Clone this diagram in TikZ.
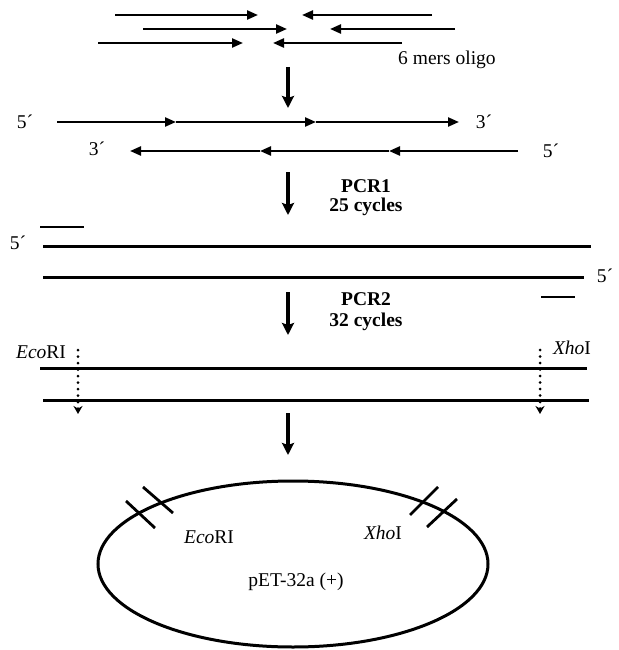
\documentclass[tikz,border=0pt]{standalone}
\usepackage{fontspec}
\setmainfont{Liberation Serif}
\usetikzlibrary{arrows.meta}
\begin{document}
\begin{tikzpicture}[x=1pt,y=-1pt,
  every node/.style={inner sep=0pt,font=\fontsize{19.5}{21}\selectfont},
  oligo/.style={line width=2.3pt,-{Triangle[length=11pt,width=9pt]}},
  strand/.style={line width=2.3pt,-{Triangle[length=11pt,width=9pt]}},
  dsline/.style={line width=3pt},
  primer/.style={line width=2.3pt},
  stepdown/.style={line width=3.5pt,-{Stealth[length=12pt,width=12pt,inset=2pt]}},
  cutsite/.style={line width=3pt,dash pattern=on 0pt off 6.5pt,line cap=round,-{Stealth[length=8pt,width=9pt,inset=2.5pt,line cap=butt]}},
  hash/.style={line width=2.8pt},
  lbl/.style={anchor=center},
  pcr/.style={anchor=base,font=\fontsize{19.5}{21}\selectfont\bfseries}
]
\useasboundingbox (0,0) rectangle (618,650);

% ---- top oligos
\coordinate (o1a) at (115,15); \coordinate (o1b) at (258,15);
\coordinate (o1c) at (432,15); \coordinate (o1d) at (302,15);
\coordinate (o2a) at (143,29); \coordinate (o2b) at (287,29);
\coordinate (o2c) at (455,29); \coordinate (o2d) at (330,29);
\coordinate (o3a) at (98,43);  \coordinate (o3b) at (243,43);
\coordinate (o3c) at (402,43); \coordinate (o3d) at (273,43);
\draw[oligo] (o1a) -- (o1b);
\draw[oligo] (o1c) -- (o1d);
\draw[oligo] (o2a) -- (o2b);
\draw[oligo] (o2c) -- (o2d);
\draw[oligo] (o3a) -- (o3b);
\draw[oligo] (o3c) -- (o3d);
\node[anchor=base west] (oligo) at (398,65) {6 mers oligo};

% ---- step arrows
\coordinate (s1a) at (288,67);  \coordinate (s1b) at (288,108);
\coordinate (s2a) at (288,172); \coordinate (s2b) at (288,215);
\coordinate (s3a) at (288,292); \coordinate (s3b) at (288,335);
\coordinate (s4a) at (288,413); \coordinate (s4b) at (288,455);
\draw[stepdown] (s1a) -- (s1b);
\draw[stepdown] (s2a) -- (s2b);
\draw[stepdown] (s3a) -- (s3b);
\draw[stepdown] (s4a) -- (s4b);

% ---- assembled strands
\coordinate (r1a) at (57,122);  \coordinate (r1b) at (176,122);
\coordinate (r1c) at (316,122); \coordinate (r1d) at (459,122);
\coordinate (r2a) at (518,151); \coordinate (r2b) at (389,151);
\coordinate (r2c) at (260,151); \coordinate (r2d) at (130,151);
\draw[strand] (r1a) -- (r1b);
\draw[strand] (r1b) -- (r1c);
\draw[strand] (r1c) -- (r1d);
\draw[strand] (r2a) -- (r2b);
\draw[strand] (r2b) -- (r2c);
\draw[strand] (r2c) -- (r2d);
\node[lbl] (p51) at (25,122) {5´};
\node[lbl] (p31) at (484,122) {3´};
\node[lbl] (p32) at (97,149) {3´};
\node[lbl] (p52) at (551,151) {5´};

\node[pcr] (pcr1) at (366,192) {PCR1};
\node[pcr] (cyc1) at (366,211) {25 cycles};

% ---- PCR1 product
\coordinate (pa1) at (40,227);  \coordinate (pa2) at (84,227);
\coordinate (la1) at (43,246);  \coordinate (la2) at (591,246);
\coordinate (lb1) at (43,277);  \coordinate (lb2) at (584,277);
\coordinate (pb1) at (541,297); \coordinate (pb2) at (575,297);
\draw[primer] (pa1) -- (pa2);
\draw[dsline] (la1) -- (la2);
\draw[dsline] (lb1) -- (lb2);
\draw[primer] (pb1) -- (pb2);
\node[lbl] (p53) at (18,243) {5´};
\node[lbl] (p54) at (605,276) {5´};

\node[pcr] (pcr2) at (366,305) {PCR2};
\node[pcr] (cyc2) at (366,326) {32 cycles};

% ---- PCR2 product
\coordinate (ma1) at (40,368);  \coordinate (ma2) at (587,368);
\coordinate (mb1) at (43,400);  \coordinate (mb2) at (589,400);
\draw[dsline] (ma1) -- (ma2);
\draw[dsline] (mb1) -- (mb2);
\coordinate (ca1) at (78,350);  \coordinate (ca2) at (78,414);
\coordinate (cb1) at (540,350); \coordinate (cb2) at (540,414);
\draw[cutsite] (ca1) -- (ca2);
\draw[cutsite] (cb1) -- (cb2);
\node[lbl] (eco1) at (41,352) {\textit{Eco}RI};
\node[lbl] (xho1) at (572,348) {\textit{Xho}I};

% ---- plasmid
\draw[line width=3pt] (293,564) ellipse [x radius=195pt, y radius=83pt];
\draw[hash] (126,501) -- (155,528);
\draw[hash] (143,487) -- (173,513);
\draw[hash] (410,515) -- (438,487);
\draw[hash] (427,527) -- (457,499);
\node[lbl] (eco2) at (209,537) {\textit{Eco}RI};
\node[lbl] (xho2) at (383,533) {\textit{Xho}I};
\node[lbl] (pet) at (296,582) {pET-32a (+)};
\end{tikzpicture}
\end{document}
